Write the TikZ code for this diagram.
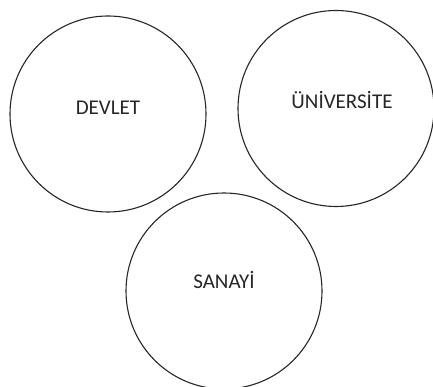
\documentclass[tikz,border=0pt]{standalone}
\usepackage{fontspec}
\setmainfont{Carlito}
\usetikzlibrary{positioning}

\begin{document}
\begin{tikzpicture}[
        x=1pt, y=1pt,
        every node/.style={font=\fontsize{21}{25}\selectfont},
        ring/.style={circle, draw=black!85, line width=1.1pt, minimum size=196pt, inner sep=0pt},
        ringText/.style={text=black!85, inner sep=0pt}
    ]
        \useasboundingbox (0,0) rectangle (433,387);

        % the three circles
        \node[ring] (devlet) at (108,273) {};
        \node[ring] (univ) at (336,278.5) {};
        \node[ring] (sanayi) at (224,96) {};

        % labels, set a little above each centre
        \node[ringText] (devletText) at ([yshift=6pt]devlet.center) {DEVLET};
        \node[ringText] (univText) at ([xshift=6pt, yshift=8pt]univ.center) {ÜNİVERSİTE};
        \node[ringText] (sanayiText) at ([yshift=11pt]sanayi.center) {SANAYİ};

    \end{tikzpicture}
\end{document}
